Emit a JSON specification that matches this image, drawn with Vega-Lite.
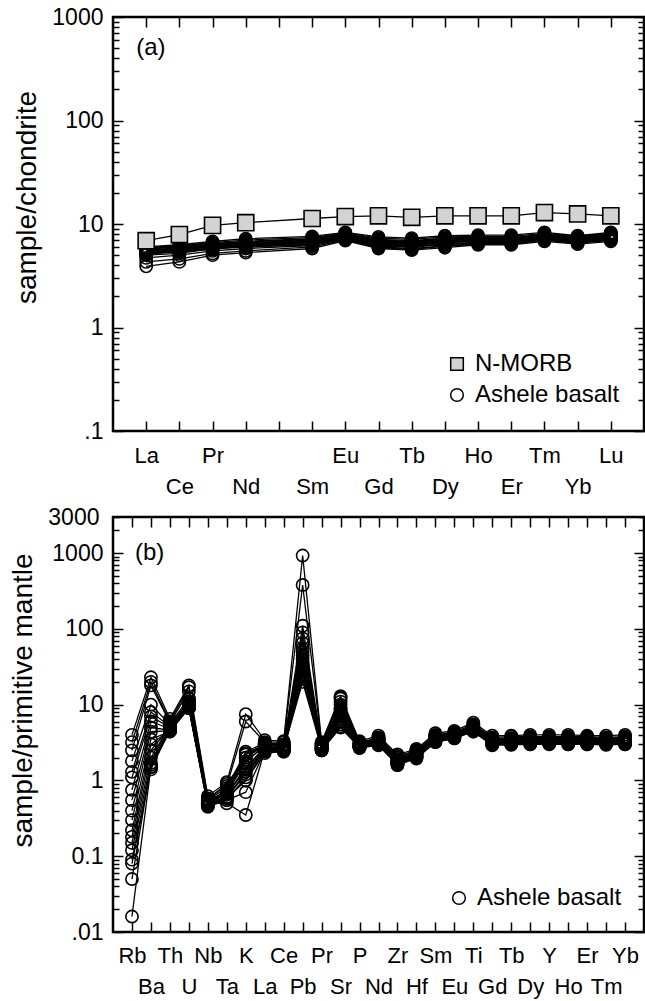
{
  "$schema": "https://vega.github.io/schema/vega-lite/v6.json",
  "padding": {"left": 8, "top": 4, "right": 1, "bottom": 0},
  "spacing": 5,
  "resolve": {"scale": {"shape": "independent", "fill": "independent"}, "legend": {"shape": "independent", "fill": "independent"}},
  "config": {
    "font": "Liberation Sans",
    "view": {"stroke": "black", "strokeWidth": 2.5},
    "axis": {"domain": false, "grid": false, "labelFontSize": 22, "labelColor": "black", "titleFontSize": 28, "titleFontWeight": "normal", "titleColor": "black", "tickColor": "black", "tickWidth": 1.5, "labelOverlap": false, "labelBound": false, "labelFlush": false},
    "axisY": {"labelFontSize": 23},
    "legend": {"labelFontSize": 24, "labelColor": "black", "symbolStrokeWidth": 1.5}
  },
  "datasets": {
    "ree": [
      {"s":"a1","g":"Ashele basalt","e":"La","v":3.9},{"s":"a1","g":"Ashele basalt","e":"Ce","v":4.3},{"s":"a1","g":"Ashele basalt","e":"Pr","v":5.0},{"s":"a1","g":"Ashele basalt","e":"Nd","v":5.3},{"s":"a1","g":"Ashele basalt","e":"Sm","v":5.8},{"s":"a1","g":"Ashele basalt","e":"Eu","v":6.9},{"s":"a1","g":"Ashele basalt","e":"Gd","v":5.8},{"s":"a1","g":"Ashele basalt","e":"Tb","v":5.6},{"s":"a1","g":"Ashele basalt","e":"Dy","v":5.9},{"s":"a1","g":"Ashele basalt","e":"Ho","v":6.3},{"s":"a1","g":"Ashele basalt","e":"Er","v":6.3},{"s":"a1","g":"Ashele basalt","e":"Tm","v":6.8},{"s":"a1","g":"Ashele basalt","e":"Yb","v":6.4},{"s":"a1","g":"Ashele basalt","e":"Lu","v":6.8},
      {"s":"a2","g":"Ashele basalt","e":"La","v":4.3},{"s":"a2","g":"Ashele basalt","e":"Ce","v":4.6},{"s":"a2","g":"Ashele basalt","e":"Pr","v":5.2},{"s":"a2","g":"Ashele basalt","e":"Nd","v":5.5},{"s":"a2","g":"Ashele basalt","e":"Sm","v":6.0},{"s":"a2","g":"Ashele basalt","e":"Eu","v":7.0},{"s":"a2","g":"Ashele basalt","e":"Gd","v":6.0},{"s":"a2","g":"Ashele basalt","e":"Tb","v":5.8},{"s":"a2","g":"Ashele basalt","e":"Dy","v":6.1},{"s":"a2","g":"Ashele basalt","e":"Ho","v":6.5},{"s":"a2","g":"Ashele basalt","e":"Er","v":6.4},{"s":"a2","g":"Ashele basalt","e":"Tm","v":7.0},{"s":"a2","g":"Ashele basalt","e":"Yb","v":6.6},{"s":"a2","g":"Ashele basalt","e":"Lu","v":7.0},
      {"s":"a3","g":"Ashele basalt","e":"La","v":4.7},{"s":"a3","g":"Ashele basalt","e":"Ce","v":5.0},{"s":"a3","g":"Ashele basalt","e":"Pr","v":5.5},{"s":"a3","g":"Ashele basalt","e":"Nd","v":5.8},{"s":"a3","g":"Ashele basalt","e":"Sm","v":6.2},{"s":"a3","g":"Ashele basalt","e":"Eu","v":7.2},{"s":"a3","g":"Ashele basalt","e":"Gd","v":6.1},{"s":"a3","g":"Ashele basalt","e":"Tb","v":6.0},{"s":"a3","g":"Ashele basalt","e":"Dy","v":6.3},{"s":"a3","g":"Ashele basalt","e":"Ho","v":6.6},{"s":"a3","g":"Ashele basalt","e":"Er","v":6.6},{"s":"a3","g":"Ashele basalt","e":"Tm","v":7.1},{"s":"a3","g":"Ashele basalt","e":"Yb","v":6.7},{"s":"a3","g":"Ashele basalt","e":"Lu","v":7.1},
      {"s":"a4","g":"Ashele basalt","e":"La","v":5.0},{"s":"a4","g":"Ashele basalt","e":"Ce","v":5.2},{"s":"a4","g":"Ashele basalt","e":"Pr","v":5.8},{"s":"a4","g":"Ashele basalt","e":"Nd","v":6.0},{"s":"a4","g":"Ashele basalt","e":"Sm","v":6.4},{"s":"a4","g":"Ashele basalt","e":"Eu","v":7.3},{"s":"a4","g":"Ashele basalt","e":"Gd","v":6.3},{"s":"a4","g":"Ashele basalt","e":"Tb","v":6.1},{"s":"a4","g":"Ashele basalt","e":"Dy","v":6.4},{"s":"a4","g":"Ashele basalt","e":"Ho","v":6.7},{"s":"a4","g":"Ashele basalt","e":"Er","v":6.7},{"s":"a4","g":"Ashele basalt","e":"Tm","v":7.2},{"s":"a4","g":"Ashele basalt","e":"Yb","v":6.8},{"s":"a4","g":"Ashele basalt","e":"Lu","v":7.2},
      {"s":"a5","g":"Ashele basalt","e":"La","v":5.2},{"s":"a5","g":"Ashele basalt","e":"Ce","v":5.4},{"s":"a5","g":"Ashele basalt","e":"Pr","v":5.9},{"s":"a5","g":"Ashele basalt","e":"Nd","v":6.1},{"s":"a5","g":"Ashele basalt","e":"Sm","v":6.5},{"s":"a5","g":"Ashele basalt","e":"Eu","v":7.4},{"s":"a5","g":"Ashele basalt","e":"Gd","v":6.4},{"s":"a5","g":"Ashele basalt","e":"Tb","v":6.2},{"s":"a5","g":"Ashele basalt","e":"Dy","v":6.6},{"s":"a5","g":"Ashele basalt","e":"Ho","v":6.8},{"s":"a5","g":"Ashele basalt","e":"Er","v":6.8},{"s":"a5","g":"Ashele basalt","e":"Tm","v":7.3},{"s":"a5","g":"Ashele basalt","e":"Yb","v":6.9},{"s":"a5","g":"Ashele basalt","e":"Lu","v":7.3},
      {"s":"a6","g":"Ashele basalt","e":"La","v":5.3},{"s":"a6","g":"Ashele basalt","e":"Ce","v":5.6},{"s":"a6","g":"Ashele basalt","e":"Pr","v":6.0},{"s":"a6","g":"Ashele basalt","e":"Nd","v":6.3},{"s":"a6","g":"Ashele basalt","e":"Sm","v":6.7},{"s":"a6","g":"Ashele basalt","e":"Eu","v":7.6},{"s":"a6","g":"Ashele basalt","e":"Gd","v":6.6},{"s":"a6","g":"Ashele basalt","e":"Tb","v":6.4},{"s":"a6","g":"Ashele basalt","e":"Dy","v":6.8},{"s":"a6","g":"Ashele basalt","e":"Ho","v":7.0},{"s":"a6","g":"Ashele basalt","e":"Er","v":6.9},{"s":"a6","g":"Ashele basalt","e":"Tm","v":7.5},{"s":"a6","g":"Ashele basalt","e":"Yb","v":7.0},{"s":"a6","g":"Ashele basalt","e":"Lu","v":7.5},
      {"s":"a7","g":"Ashele basalt","e":"La","v":5.4},{"s":"a7","g":"Ashele basalt","e":"Ce","v":5.7},{"s":"a7","g":"Ashele basalt","e":"Pr","v":6.1},{"s":"a7","g":"Ashele basalt","e":"Nd","v":6.4},{"s":"a7","g":"Ashele basalt","e":"Sm","v":6.8},{"s":"a7","g":"Ashele basalt","e":"Eu","v":7.7},{"s":"a7","g":"Ashele basalt","e":"Gd","v":6.7},{"s":"a7","g":"Ashele basalt","e":"Tb","v":6.5},{"s":"a7","g":"Ashele basalt","e":"Dy","v":6.9},{"s":"a7","g":"Ashele basalt","e":"Ho","v":7.1},{"s":"a7","g":"Ashele basalt","e":"Er","v":7.0},{"s":"a7","g":"Ashele basalt","e":"Tm","v":7.6},{"s":"a7","g":"Ashele basalt","e":"Yb","v":7.1},{"s":"a7","g":"Ashele basalt","e":"Lu","v":7.6},
      {"s":"a8","g":"Ashele basalt","e":"La","v":5.5},{"s":"a8","g":"Ashele basalt","e":"Ce","v":5.8},{"s":"a8","g":"Ashele basalt","e":"Pr","v":6.2},{"s":"a8","g":"Ashele basalt","e":"Nd","v":6.5},{"s":"a8","g":"Ashele basalt","e":"Sm","v":6.9},{"s":"a8","g":"Ashele basalt","e":"Eu","v":7.8},{"s":"a8","g":"Ashele basalt","e":"Gd","v":6.8},{"s":"a8","g":"Ashele basalt","e":"Tb","v":6.6},{"s":"a8","g":"Ashele basalt","e":"Dy","v":7.0},{"s":"a8","g":"Ashele basalt","e":"Ho","v":7.2},{"s":"a8","g":"Ashele basalt","e":"Er","v":7.1},{"s":"a8","g":"Ashele basalt","e":"Tm","v":7.7},{"s":"a8","g":"Ashele basalt","e":"Yb","v":7.2},{"s":"a8","g":"Ashele basalt","e":"Lu","v":7.7},
      {"s":"a9","g":"Ashele basalt","e":"La","v":5.6},{"s":"a9","g":"Ashele basalt","e":"Ce","v":5.9},{"s":"a9","g":"Ashele basalt","e":"Pr","v":6.3},{"s":"a9","g":"Ashele basalt","e":"Nd","v":6.6},{"s":"a9","g":"Ashele basalt","e":"Sm","v":7.0},{"s":"a9","g":"Ashele basalt","e":"Eu","v":7.9},{"s":"a9","g":"Ashele basalt","e":"Gd","v":6.9},{"s":"a9","g":"Ashele basalt","e":"Tb","v":6.7},{"s":"a9","g":"Ashele basalt","e":"Dy","v":7.1},{"s":"a9","g":"Ashele basalt","e":"Ho","v":7.3},{"s":"a9","g":"Ashele basalt","e":"Er","v":7.2},{"s":"a9","g":"Ashele basalt","e":"Tm","v":7.8},{"s":"a9","g":"Ashele basalt","e":"Yb","v":7.3},{"s":"a9","g":"Ashele basalt","e":"Lu","v":7.8},
      {"s":"a10","g":"Ashele basalt","e":"La","v":5.7},{"s":"a10","g":"Ashele basalt","e":"Ce","v":6.0},{"s":"a10","g":"Ashele basalt","e":"Pr","v":6.4},{"s":"a10","g":"Ashele basalt","e":"Nd","v":6.7},{"s":"a10","g":"Ashele basalt","e":"Sm","v":7.1},{"s":"a10","g":"Ashele basalt","e":"Eu","v":8.0},{"s":"a10","g":"Ashele basalt","e":"Gd","v":7.0},{"s":"a10","g":"Ashele basalt","e":"Tb","v":6.8},{"s":"a10","g":"Ashele basalt","e":"Dy","v":7.2},{"s":"a10","g":"Ashele basalt","e":"Ho","v":7.4},{"s":"a10","g":"Ashele basalt","e":"Er","v":7.3},{"s":"a10","g":"Ashele basalt","e":"Tm","v":7.9},{"s":"a10","g":"Ashele basalt","e":"Yb","v":7.4},{"s":"a10","g":"Ashele basalt","e":"Lu","v":7.9},
      {"s":"a11","g":"Ashele basalt","e":"La","v":5.8},{"s":"a11","g":"Ashele basalt","e":"Ce","v":6.1},{"s":"a11","g":"Ashele basalt","e":"Pr","v":6.5},{"s":"a11","g":"Ashele basalt","e":"Nd","v":6.8},{"s":"a11","g":"Ashele basalt","e":"Sm","v":7.2},{"s":"a11","g":"Ashele basalt","e":"Eu","v":8.1},{"s":"a11","g":"Ashele basalt","e":"Gd","v":7.1},{"s":"a11","g":"Ashele basalt","e":"Tb","v":6.9},{"s":"a11","g":"Ashele basalt","e":"Dy","v":7.3},{"s":"a11","g":"Ashele basalt","e":"Ho","v":7.5},{"s":"a11","g":"Ashele basalt","e":"Er","v":7.4},{"s":"a11","g":"Ashele basalt","e":"Tm","v":8.0},{"s":"a11","g":"Ashele basalt","e":"Yb","v":7.5},{"s":"a11","g":"Ashele basalt","e":"Lu","v":8.0},
      {"s":"a12","g":"Ashele basalt","e":"La","v":5.9},{"s":"a12","g":"Ashele basalt","e":"Ce","v":6.2},{"s":"a12","g":"Ashele basalt","e":"Pr","v":6.6},{"s":"a12","g":"Ashele basalt","e":"Nd","v":7.0},{"s":"a12","g":"Ashele basalt","e":"Sm","v":7.4},{"s":"a12","g":"Ashele basalt","e":"Eu","v":8.2},{"s":"a12","g":"Ashele basalt","e":"Gd","v":7.3},{"s":"a12","g":"Ashele basalt","e":"Tb","v":7.1},{"s":"a12","g":"Ashele basalt","e":"Dy","v":7.5},{"s":"a12","g":"Ashele basalt","e":"Ho","v":7.6},{"s":"a12","g":"Ashele basalt","e":"Er","v":7.6},{"s":"a12","g":"Ashele basalt","e":"Tm","v":8.1},{"s":"a12","g":"Ashele basalt","e":"Yb","v":7.6},{"s":"a12","g":"Ashele basalt","e":"Lu","v":8.1},
      {"s":"a13","g":"Ashele basalt","e":"La","v":5.5},{"s":"a13","g":"Ashele basalt","e":"Ce","v":5.7},{"s":"a13","g":"Ashele basalt","e":"Pr","v":6.0},{"s":"a13","g":"Ashele basalt","e":"Nd","v":6.2},{"s":"a13","g":"Ashele basalt","e":"Sm","v":6.6},{"s":"a13","g":"Ashele basalt","e":"Eu","v":7.5},{"s":"a13","g":"Ashele basalt","e":"Gd","v":6.2},{"s":"a13","g":"Ashele basalt","e":"Tb","v":6.0},{"s":"a13","g":"Ashele basalt","e":"Dy","v":6.4},{"s":"a13","g":"Ashele basalt","e":"Ho","v":6.6},{"s":"a13","g":"Ashele basalt","e":"Er","v":6.6},{"s":"a13","g":"Ashele basalt","e":"Tm","v":7.2},{"s":"a13","g":"Ashele basalt","e":"Yb","v":6.7},{"s":"a13","g":"Ashele basalt","e":"Lu","v":7.3},
      {"s":"a14","g":"Ashele basalt","e":"La","v":5.3},{"s":"a14","g":"Ashele basalt","e":"Ce","v":5.5},{"s":"a14","g":"Ashele basalt","e":"Pr","v":5.8},{"s":"a14","g":"Ashele basalt","e":"Nd","v":6.0},{"s":"a14","g":"Ashele basalt","e":"Sm","v":6.3},{"s":"a14","g":"Ashele basalt","e":"Eu","v":7.1},{"s":"a14","g":"Ashele basalt","e":"Gd","v":5.9},{"s":"a14","g":"Ashele basalt","e":"Tb","v":5.7},{"s":"a14","g":"Ashele basalt","e":"Dy","v":6.1},{"s":"a14","g":"Ashele basalt","e":"Ho","v":6.4},{"s":"a14","g":"Ashele basalt","e":"Er","v":6.5},{"s":"a14","g":"Ashele basalt","e":"Tm","v":7.0},{"s":"a14","g":"Ashele basalt","e":"Yb","v":6.5},{"s":"a14","g":"Ashele basalt","e":"Lu","v":7.0},
      {"s":"a15","g":"Ashele basalt","e":"La","v":6.0},{"s":"a15","g":"Ashele basalt","e":"Ce","v":6.3},{"s":"a15","g":"Ashele basalt","e":"Pr","v":6.8},{"s":"a15","g":"Ashele basalt","e":"Nd","v":7.2},{"s":"a15","g":"Ashele basalt","e":"Sm","v":7.6},{"s":"a15","g":"Ashele basalt","e":"Eu","v":8.3},{"s":"a15","g":"Ashele basalt","e":"Gd","v":7.5},{"s":"a15","g":"Ashele basalt","e":"Tb","v":7.3},{"s":"a15","g":"Ashele basalt","e":"Dy","v":7.7},{"s":"a15","g":"Ashele basalt","e":"Ho","v":7.8},{"s":"a15","g":"Ashele basalt","e":"Er","v":7.8},{"s":"a15","g":"Ashele basalt","e":"Tm","v":8.3},{"s":"a15","g":"Ashele basalt","e":"Yb","v":7.7},{"s":"a15","g":"Ashele basalt","e":"Lu","v":8.3},
      {"s":"a16","g":"Ashele basalt","e":"La","v":5.1},{"s":"a16","g":"Ashele basalt","e":"Ce","v":5.4},{"s":"a16","g":"Ashele basalt","e":"Pr","v":5.7},{"s":"a16","g":"Ashele basalt","e":"Nd","v":6.2},{"s":"a16","g":"Ashele basalt","e":"Sm","v":6.7},{"s":"a16","g":"Ashele basalt","e":"Eu","v":7.4},{"s":"a16","g":"Ashele basalt","e":"Gd","v":6.5},{"s":"a16","g":"Ashele basalt","e":"Tb","v":6.3},{"s":"a16","g":"Ashele basalt","e":"Dy","v":6.7},{"s":"a16","g":"Ashele basalt","e":"Ho","v":6.9},{"s":"a16","g":"Ashele basalt","e":"Er","v":6.9},{"s":"a16","g":"Ashele basalt","e":"Tm","v":7.4},{"s":"a16","g":"Ashele basalt","e":"Yb","v":6.9},{"s":"a16","g":"Ashele basalt","e":"Lu","v":7.4},
      {"s":"nm","g":"N-MORB","e":"La","v":6.9},{"s":"nm","g":"N-MORB","e":"Ce","v":7.9},{"s":"nm","g":"N-MORB","e":"Pr","v":9.7},{"s":"nm","g":"N-MORB","e":"Nd","v":10.3},{"s":"nm","g":"N-MORB","e":"Sm","v":11.3},{"s":"nm","g":"N-MORB","e":"Eu","v":11.8},{"s":"nm","g":"N-MORB","e":"Gd","v":12.0},{"s":"nm","g":"N-MORB","e":"Tb","v":11.6},{"s":"nm","g":"N-MORB","e":"Dy","v":12.0},{"s":"nm","g":"N-MORB","e":"Ho","v":12.0},{"s":"nm","g":"N-MORB","e":"Er","v":12.0},{"s":"nm","g":"N-MORB","e":"Tm","v":12.9},{"s":"nm","g":"N-MORB","e":"Yb","v":12.5},{"s":"nm","g":"N-MORB","e":"Lu","v":12.0}
    ],
    "spider": [
      {"s":"b1","e":"Rb","v":4.0},{"s":"b1","e":"Ba","v":23},{"s":"b1","e":"Th","v":6.5},{"s":"b1","e":"U","v":18},{"s":"b1","e":"Nb","v":0.62},{"s":"b1","e":"Ta","v":0.95},{"s":"b1","e":"K","v":7.5},{"s":"b1","e":"La","v":3.4},{"s":"b1","e":"Ce","v":3.3},{"s":"b1","e":"Pb","v":930},{"s":"b1","e":"Pr","v":3.2},{"s":"b1","e":"Sr","v":13},{"s":"b1","e":"P","v":3.3},{"s":"b1","e":"Nd","v":3.9},{"s":"b1","e":"Zr","v":2.2},{"s":"b1","e":"Hf","v":2.6},{"s":"b1","e":"Sm","v":4.2},{"s":"b1","e":"Eu","v":4.5},{"s":"b1","e":"Ti","v":5.8},{"s":"b1","e":"Gd","v":3.9},{"s":"b1","e":"Tb","v":3.9},{"s":"b1","e":"Dy","v":4.0},{"s":"b1","e":"Y","v":4.0},{"s":"b1","e":"Ho","v":4.0},{"s":"b1","e":"Er","v":3.9},{"s":"b1","e":"Tm","v":3.9},{"s":"b1","e":"Yb","v":4.0},
      {"s":"b2","e":"Rb","v":3.2},{"s":"b2","e":"Ba","v":20},{"s":"b2","e":"Th","v":6.0},{"s":"b2","e":"U","v":17},{"s":"b2","e":"Nb","v":0.58},{"s":"b2","e":"Ta","v":0.85},{"s":"b2","e":"K","v":6.0},{"s":"b2","e":"La","v":3.2},{"s":"b2","e":"Ce","v":3.2},{"s":"b2","e":"Pb","v":380},{"s":"b2","e":"Pr","v":3.1},{"s":"b2","e":"Sr","v":12},{"s":"b2","e":"P","v":3.1},{"s":"b2","e":"Nd","v":3.7},{"s":"b2","e":"Zr","v":2.1},{"s":"b2","e":"Hf","v":2.5},{"s":"b2","e":"Sm","v":4.0},{"s":"b2","e":"Eu","v":4.3},{"s":"b2","e":"Ti","v":5.5},{"s":"b2","e":"Gd","v":3.7},{"s":"b2","e":"Tb","v":3.8},{"s":"b2","e":"Dy","v":3.8},{"s":"b2","e":"Y","v":3.8},{"s":"b2","e":"Ho","v":3.8},{"s":"b2","e":"Er","v":3.8},{"s":"b2","e":"Tm","v":3.7},{"s":"b2","e":"Yb","v":3.8},
      {"s":"b3","e":"Rb","v":2.5},{"s":"b3","e":"Ba","v":18},{"s":"b3","e":"Th","v":5.8},{"s":"b3","e":"U","v":15},{"s":"b3","e":"Nb","v":0.55},{"s":"b3","e":"Ta","v":0.8},{"s":"b3","e":"K","v":2.4},{"s":"b3","e":"La","v":3.1},{"s":"b3","e":"Ce","v":3.0},{"s":"b3","e":"Pb","v":110},{"s":"b3","e":"Pr","v":3.0},{"s":"b3","e":"Sr","v":11},{"s":"b3","e":"P","v":3.0},{"s":"b3","e":"Nd","v":3.6},{"s":"b3","e":"Zr","v":2.0},{"s":"b3","e":"Hf","v":2.4},{"s":"b3","e":"Sm","v":3.9},{"s":"b3","e":"Eu","v":4.2},{"s":"b3","e":"Ti","v":5.2},{"s":"b3","e":"Gd","v":3.6},{"s":"b3","e":"Tb","v":3.6},{"s":"b3","e":"Dy","v":3.7},{"s":"b3","e":"Y","v":3.7},{"s":"b3","e":"Ho","v":3.7},{"s":"b3","e":"Er","v":3.7},{"s":"b3","e":"Tm","v":3.6},{"s":"b3","e":"Yb","v":3.7},
      {"s":"b4","e":"Rb","v":1.8},{"s":"b4","e":"Ba","v":10},{"s":"b4","e":"Th","v":5.5},{"s":"b4","e":"U","v":12},{"s":"b4","e":"Nb","v":0.52},{"s":"b4","e":"Ta","v":0.75},{"s":"b4","e":"K","v":2.2},{"s":"b4","e":"La","v":3.0},{"s":"b4","e":"Ce","v":2.9},{"s":"b4","e":"Pb","v":90},{"s":"b4","e":"Pr","v":2.9},{"s":"b4","e":"Sr","v":9},{"s":"b4","e":"P","v":2.9},{"s":"b4","e":"Nd","v":3.5},{"s":"b4","e":"Zr","v":1.9},{"s":"b4","e":"Hf","v":2.3},{"s":"b4","e":"Sm","v":3.8},{"s":"b4","e":"Eu","v":4.1},{"s":"b4","e":"Ti","v":5.0},{"s":"b4","e":"Gd","v":3.5},{"s":"b4","e":"Tb","v":3.5},{"s":"b4","e":"Dy","v":3.6},{"s":"b4","e":"Y","v":3.6},{"s":"b4","e":"Ho","v":3.6},{"s":"b4","e":"Er","v":3.6},{"s":"b4","e":"Tm","v":3.5},{"s":"b4","e":"Yb","v":3.6},
      {"s":"b5","e":"Rb","v":1.3},{"s":"b5","e":"Ba","v":8},{"s":"b5","e":"Th","v":5.2},{"s":"b5","e":"U","v":11},{"s":"b5","e":"Nb","v":0.5},{"s":"b5","e":"Ta","v":0.72},{"s":"b5","e":"K","v":2.0},{"s":"b5","e":"La","v":2.9},{"s":"b5","e":"Ce","v":2.8},{"s":"b5","e":"Pb","v":75},{"s":"b5","e":"Pr","v":2.8},{"s":"b5","e":"Sr","v":8},{"s":"b5","e":"P","v":2.8},{"s":"b5","e":"Nd","v":3.4},{"s":"b5","e":"Zr","v":1.85},{"s":"b5","e":"Hf","v":2.25},{"s":"b5","e":"Sm","v":3.7},{"s":"b5","e":"Eu","v":4.0},{"s":"b5","e":"Ti","v":4.9},{"s":"b5","e":"Gd","v":3.4},{"s":"b5","e":"Tb","v":3.4},{"s":"b5","e":"Dy","v":3.5},{"s":"b5","e":"Y","v":3.5},{"s":"b5","e":"Ho","v":3.5},{"s":"b5","e":"Er","v":3.5},{"s":"b5","e":"Tm","v":3.4},{"s":"b5","e":"Yb","v":3.5},
      {"s":"b6","e":"Rb","v":1.1},{"s":"b6","e":"Ba","v":7},{"s":"b6","e":"Th","v":5.0},{"s":"b6","e":"U","v":10},{"s":"b6","e":"Nb","v":0.48},{"s":"b6","e":"Ta","v":0.7},{"s":"b6","e":"K","v":1.8},{"s":"b6","e":"La","v":2.8},{"s":"b6","e":"Ce","v":2.7},{"s":"b6","e":"Pb","v":65},{"s":"b6","e":"Pr","v":2.75},{"s":"b6","e":"Sr","v":7.5},{"s":"b6","e":"P","v":2.8},{"s":"b6","e":"Nd","v":3.3},{"s":"b6","e":"Zr","v":1.8},{"s":"b6","e":"Hf","v":2.2},{"s":"b6","e":"Sm","v":3.6},{"s":"b6","e":"Eu","v":3.9},{"s":"b6","e":"Ti","v":4.8},{"s":"b6","e":"Gd","v":3.3},{"s":"b6","e":"Tb","v":3.3},{"s":"b6","e":"Dy","v":3.4},{"s":"b6","e":"Y","v":3.4},{"s":"b6","e":"Ho","v":3.4},{"s":"b6","e":"Er","v":3.4},{"s":"b6","e":"Tm","v":3.3},{"s":"b6","e":"Yb","v":3.4},
      {"s":"b7","e":"Rb","v":0.75},{"s":"b7","e":"Ba","v":6},{"s":"b7","e":"Th","v":4.8},{"s":"b7","e":"U","v":10},{"s":"b7","e":"Nb","v":0.5},{"s":"b7","e":"Ta","v":0.65},{"s":"b7","e":"K","v":1.5},{"s":"b7","e":"La","v":2.7},{"s":"b7","e":"Ce","v":2.6},{"s":"b7","e":"Pb","v":55},{"s":"b7","e":"Pr","v":2.7},{"s":"b7","e":"Sr","v":7},{"s":"b7","e":"P","v":2.9},{"s":"b7","e":"Nd","v":3.2},{"s":"b7","e":"Zr","v":1.75},{"s":"b7","e":"Hf","v":2.1},{"s":"b7","e":"Sm","v":3.5},{"s":"b7","e":"Eu","v":3.9},{"s":"b7","e":"Ti","v":4.7},{"s":"b7","e":"Gd","v":3.2},{"s":"b7","e":"Tb","v":3.2},{"s":"b7","e":"Dy","v":3.3},{"s":"b7","e":"Y","v":3.3},{"s":"b7","e":"Ho","v":3.3},{"s":"b7","e":"Er","v":3.3},{"s":"b7","e":"Tm","v":3.2},{"s":"b7","e":"Yb","v":3.3},
      {"s":"b8","e":"Rb","v":0.55},{"s":"b8","e":"Ba","v":5},{"s":"b8","e":"Th","v":4.6},{"s":"b8","e":"U","v":9.5},{"s":"b8","e":"Nb","v":0.47},{"s":"b8","e":"Ta","v":0.6},{"s":"b8","e":"K","v":1.2},{"s":"b8","e":"La","v":2.6},{"s":"b8","e":"Ce","v":2.5},{"s":"b8","e":"Pb","v":50},{"s":"b8","e":"Pr","v":2.6},{"s":"b8","e":"Sr","v":6.5},{"s":"b8","e":"P","v":2.7},{"s":"b8","e":"Nd","v":3.1},{"s":"b8","e":"Zr","v":1.7},{"s":"b8","e":"Hf","v":2.05},{"s":"b8","e":"Sm","v":3.4},{"s":"b8","e":"Eu","v":3.8},{"s":"b8","e":"Ti","v":4.6},{"s":"b8","e":"Gd","v":3.1},{"s":"b8","e":"Tb","v":3.1},{"s":"b8","e":"Dy","v":3.2},{"s":"b8","e":"Y","v":3.2},{"s":"b8","e":"Ho","v":3.2},{"s":"b8","e":"Er","v":3.2},{"s":"b8","e":"Tm","v":3.1},{"s":"b8","e":"Yb","v":3.2},
      {"s":"b9","e":"Rb","v":0.4},{"s":"b9","e":"Ba","v":4.4},{"s":"b9","e":"Th","v":4.5},{"s":"b9","e":"U","v":9},{"s":"b9","e":"Nb","v":0.46},{"s":"b9","e":"Ta","v":0.58},{"s":"b9","e":"K","v":1.0},{"s":"b9","e":"La","v":2.5},{"s":"b9","e":"Ce","v":2.5},{"s":"b9","e":"Pb","v":45},{"s":"b9","e":"Pr","v":2.5},{"s":"b9","e":"Sr","v":6},{"s":"b9","e":"P","v":2.8},{"s":"b9","e":"Nd","v":3.0},{"s":"b9","e":"Zr","v":1.65},{"s":"b9","e":"Hf","v":2.0},{"s":"b9","e":"Sm","v":3.3},{"s":"b9","e":"Eu","v":3.7},{"s":"b9","e":"Ti","v":4.5},{"s":"b9","e":"Gd","v":3.0},{"s":"b9","e":"Tb","v":3.05},{"s":"b9","e":"Dy","v":3.1},{"s":"b9","e":"Y","v":3.1},{"s":"b9","e":"Ho","v":3.1},{"s":"b9","e":"Er","v":3.1},{"s":"b9","e":"Tm","v":3.05},{"s":"b9","e":"Yb","v":3.1},
      {"s":"b10","e":"Rb","v":0.3},{"s":"b10","e":"Ba","v":3.5},{"s":"b10","e":"Th","v":4.4},{"s":"b10","e":"U","v":9},{"s":"b10","e":"Nb","v":0.45},{"s":"b10","e":"Ta","v":0.55},{"s":"b10","e":"K","v":0.7},{"s":"b10","e":"La","v":2.4},{"s":"b10","e":"Ce","v":2.4},{"s":"b10","e":"Pb","v":40},{"s":"b10","e":"Pr","v":2.5},{"s":"b10","e":"Sr","v":5.5},{"s":"b10","e":"P","v":2.7},{"s":"b10","e":"Nd","v":3.0},{"s":"b10","e":"Zr","v":1.6},{"s":"b10","e":"Hf","v":2.0},{"s":"b10","e":"Sm","v":3.2},{"s":"b10","e":"Eu","v":3.6},{"s":"b10","e":"Ti","v":4.5},{"s":"b10","e":"Gd","v":3.0},{"s":"b10","e":"Tb","v":3.0},{"s":"b10","e":"Dy","v":3.0},{"s":"b10","e":"Y","v":3.1},{"s":"b10","e":"Ho","v":3.0},{"s":"b10","e":"Er","v":3.0},{"s":"b10","e":"Tm","v":3.0},{"s":"b10","e":"Yb","v":3.0},
      {"s":"b11","e":"Rb","v":0.22},{"s":"b11","e":"Ba","v":3.0},{"s":"b11","e":"Th","v":4.6},{"s":"b11","e":"U","v":9.5},{"s":"b11","e":"Nb","v":0.5},{"s":"b11","e":"Ta","v":0.5},{"s":"b11","e":"K","v":0.35},{"s":"b11","e":"La","v":2.5},{"s":"b11","e":"Ce","v":2.6},{"s":"b11","e":"Pb","v":35},{"s":"b11","e":"Pr","v":2.6},{"s":"b11","e":"Sr","v":5.2},{"s":"b11","e":"P","v":2.9},{"s":"b11","e":"Nd","v":3.1},{"s":"b11","e":"Zr","v":1.7},{"s":"b11","e":"Hf","v":2.1},{"s":"b11","e":"Sm","v":3.4},{"s":"b11","e":"Eu","v":3.8},{"s":"b11","e":"Ti","v":4.6},{"s":"b11","e":"Gd","v":3.1},{"s":"b11","e":"Tb","v":3.2},{"s":"b11","e":"Dy","v":3.2},{"s":"b11","e":"Y","v":3.3},{"s":"b11","e":"Ho","v":3.2},{"s":"b11","e":"Er","v":3.2},{"s":"b11","e":"Tm","v":3.2},{"s":"b11","e":"Yb","v":3.2},
      {"s":"b12","e":"Rb","v":0.18},{"s":"b12","e":"Ba","v":2.5},{"s":"b12","e":"Th","v":5.0},{"s":"b12","e":"U","v":10},{"s":"b12","e":"Nb","v":0.53},{"s":"b12","e":"Ta","v":0.65},{"s":"b12","e":"K","v":1.4},{"s":"b12","e":"La","v":2.8},{"s":"b12","e":"Ce","v":2.7},{"s":"b12","e":"Pb","v":30},{"s":"b12","e":"Pr","v":2.7},{"s":"b12","e":"Sr","v":8.5},{"s":"b12","e":"P","v":3.0},{"s":"b12","e":"Nd","v":3.3},{"s":"b12","e":"Zr","v":1.8},{"s":"b12","e":"Hf","v":2.2},{"s":"b12","e":"Sm","v":3.6},{"s":"b12","e":"Eu","v":4.0},{"s":"b12","e":"Ti","v":4.8},{"s":"b12","e":"Gd","v":3.3},{"s":"b12","e":"Tb","v":3.3},{"s":"b12","e":"Dy","v":3.4},{"s":"b12","e":"Y","v":3.4},{"s":"b12","e":"Ho","v":3.4},{"s":"b12","e":"Er","v":3.4},{"s":"b12","e":"Tm","v":3.3},{"s":"b12","e":"Yb","v":3.4},
      {"s":"b13","e":"Rb","v":0.15},{"s":"b13","e":"Ba","v":2.0},{"s":"b13","e":"Th","v":5.3},{"s":"b13","e":"U","v":11},{"s":"b13","e":"Nb","v":0.55},{"s":"b13","e":"Ta","v":0.7},{"s":"b13","e":"K","v":1.7},{"s":"b13","e":"La","v":3.0},{"s":"b13","e":"Ce","v":2.9},{"s":"b13","e":"Pb","v":28},{"s":"b13","e":"Pr","v":2.9},{"s":"b13","e":"Sr","v":10},{"s":"b13","e":"P","v":3.1},{"s":"b13","e":"Nd","v":3.5},{"s":"b13","e":"Zr","v":1.9},{"s":"b13","e":"Hf","v":2.3},{"s":"b13","e":"Sm","v":3.8},{"s":"b13","e":"Eu","v":4.1},{"s":"b13","e":"Ti","v":5.0},{"s":"b13","e":"Gd","v":3.5},{"s":"b13","e":"Tb","v":3.5},{"s":"b13","e":"Dy","v":3.6},{"s":"b13","e":"Y","v":3.6},{"s":"b13","e":"Ho","v":3.6},{"s":"b13","e":"Er","v":3.6},{"s":"b13","e":"Tm","v":3.5},{"s":"b13","e":"Yb","v":3.6},
      {"s":"b14","e":"Rb","v":0.12},{"s":"b14","e":"Ba","v":1.7},{"s":"b14","e":"Th","v":5.6},{"s":"b14","e":"U","v":12},{"s":"b14","e":"Nb","v":0.57},{"s":"b14","e":"Ta","v":0.9},{"s":"b14","e":"K","v":2.0},{"s":"b14","e":"La","v":3.1},{"s":"b14","e":"Ce","v":3.0},{"s":"b14","e":"Pb","v":25},{"s":"b14","e":"Pr","v":3.0},{"s":"b14","e":"Sr","v":12.5},{"s":"b14","e":"P","v":3.2},{"s":"b14","e":"Nd","v":3.6},{"s":"b14","e":"Zr","v":2.0},{"s":"b14","e":"Hf","v":2.4},{"s":"b14","e":"Sm","v":3.9},{"s":"b14","e":"Eu","v":4.2},{"s":"b14","e":"Ti","v":5.3},{"s":"b14","e":"Gd","v":3.6},{"s":"b14","e":"Tb","v":3.6},{"s":"b14","e":"Dy","v":3.7},{"s":"b14","e":"Y","v":3.7},{"s":"b14","e":"Ho","v":3.7},{"s":"b14","e":"Er","v":3.7},{"s":"b14","e":"Tm","v":3.6},{"s":"b14","e":"Yb","v":3.7},
      {"s":"b15","e":"Rb","v":0.09},{"s":"b15","e":"Ba","v":1.5},{"s":"b15","e":"Th","v":4.9},{"s":"b15","e":"U","v":10},{"s":"b15","e":"Nb","v":0.5},{"s":"b15","e":"Ta","v":0.6},{"s":"b15","e":"K","v":1.3},{"s":"b15","e":"La","v":2.7},{"s":"b15","e":"Ce","v":2.7},{"s":"b15","e":"Pb","v":22},{"s":"b15","e":"Pr","v":2.7},{"s":"b15","e":"Sr","v":7},{"s":"b15","e":"P","v":2.8},{"s":"b15","e":"Nd","v":3.2},{"s":"b15","e":"Zr","v":1.75},{"s":"b15","e":"Hf","v":2.15},{"s":"b15","e":"Sm","v":3.5},{"s":"b15","e":"Eu","v":3.9},{"s":"b15","e":"Ti","v":4.7},{"s":"b15","e":"Gd","v":3.2},{"s":"b15","e":"Tb","v":3.2},{"s":"b15","e":"Dy","v":3.3},{"s":"b15","e":"Y","v":3.3},{"s":"b15","e":"Ho","v":3.3},{"s":"b15","e":"Er","v":3.3},{"s":"b15","e":"Tm","v":3.2},{"s":"b15","e":"Yb","v":3.3},
      {"s":"b16","e":"Rb","v":0.08},{"s":"b16","e":"Ba","v":1.4},{"s":"b16","e":"Th","v":4.7},{"s":"b16","e":"U","v":9.5},{"s":"b16","e":"Nb","v":0.48},{"s":"b16","e":"Ta","v":0.55},{"s":"b16","e":"K","v":1.1},{"s":"b16","e":"La","v":2.6},{"s":"b16","e":"Ce","v":2.6},{"s":"b16","e":"Pb","v":20},{"s":"b16","e":"Pr","v":2.6},{"s":"b16","e":"Sr","v":6},{"s":"b16","e":"P","v":2.75},{"s":"b16","e":"Nd","v":3.1},{"s":"b16","e":"Zr","v":1.7},{"s":"b16","e":"Hf","v":2.1},{"s":"b16","e":"Sm","v":3.4},{"s":"b16","e":"Eu","v":3.8},{"s":"b16","e":"Ti","v":4.6},{"s":"b16","e":"Gd","v":3.1},{"s":"b16","e":"Tb","v":3.1},{"s":"b16","e":"Dy","v":3.2},{"s":"b16","e":"Y","v":3.2},{"s":"b16","e":"Ho","v":3.2},{"s":"b16","e":"Er","v":3.2},{"s":"b16","e":"Tm","v":3.1},{"s":"b16","e":"Yb","v":3.2},
      {"s":"b17","e":"Rb","v":0.05},{"s":"b17","e":"Ba","v":1.6},{"s":"b17","e":"Th","v":5.1},{"s":"b17","e":"U","v":10.5},{"s":"b17","e":"Nb","v":0.52},{"s":"b17","e":"Ta","v":0.68},{"s":"b17","e":"K","v":2.3},{"s":"b17","e":"La","v":2.9},{"s":"b17","e":"Ce","v":2.8},{"s":"b17","e":"Pb","v":32},{"s":"b17","e":"Pr","v":2.8},{"s":"b17","e":"Sr","v":9},{"s":"b17","e":"P","v":3.0},{"s":"b17","e":"Nd","v":3.4},{"s":"b17","e":"Zr","v":1.8},{"s":"b17","e":"Hf","v":2.25},{"s":"b17","e":"Sm","v":3.7},{"s":"b17","e":"Eu","v":4.0},{"s":"b17","e":"Ti","v":4.9},{"s":"b17","e":"Gd","v":3.4},{"s":"b17","e":"Tb","v":3.4},{"s":"b17","e":"Dy","v":3.5},{"s":"b17","e":"Y","v":3.5},{"s":"b17","e":"Ho","v":3.5},{"s":"b17","e":"Er","v":3.5},{"s":"b17","e":"Tm","v":3.4},{"s":"b17","e":"Yb","v":3.5},
      {"s":"b18","e":"Rb","v":0.016},{"s":"b18","e":"Ba","v":1.5},{"s":"b18","e":"Th","v":4.5},{"s":"b18","e":"U","v":9},{"s":"b18","e":"Nb","v":0.5},{"s":"b18","e":"Ta","v":0.6},{"s":"b18","e":"K","v":1.0},{"s":"b18","e":"La","v":2.3},{"s":"b18","e":"Ce","v":2.4},{"s":"b18","e":"Pb","v":28},{"s":"b18","e":"Pr","v":2.5},{"s":"b18","e":"Sr","v":5},{"s":"b18","e":"P","v":2.7},{"s":"b18","e":"Nd","v":2.9},{"s":"b18","e":"Zr","v":1.6},{"s":"b18","e":"Hf","v":1.95},{"s":"b18","e":"Sm","v":3.2},{"s":"b18","e":"Eu","v":3.6},{"s":"b18","e":"Ti","v":4.4},{"s":"b18","e":"Gd","v":2.9},{"s":"b18","e":"Tb","v":2.95},{"s":"b18","e":"Dy","v":3.0},{"s":"b18","e":"Y","v":3.0},{"s":"b18","e":"Ho","v":3.0},{"s":"b18","e":"Er","v":3.0},{"s":"b18","e":"Tm","v":2.95},{"s":"b18","e":"Yb","v":3.0}
    ],
    "labA": [{"e":"La","v":497,"t":"(a)"}],
    "labB": [{"e":"Rb","v":1000,"t":"(b)"}]
  },
  "vconcat": [
    {
      "width": 531,
      "height": 414,
      "data": {"name": "ree"},
      "resolve": {"axis": {"x": "independent", "y": "independent"}},
      "layer": [
        {
          "mark": {"type": "line", "color": "black", "strokeWidth": 1.3},
          "encoding": {
            "x": {"field": "e", "type": "ordinal", "sort": ["La","Ce","Pr","Nd","Pm","Sm","Eu","Gd","Tb","Dy","Ho","Er","Tm","Yb","Lu"],
              "scale": {"type": "point", "domain": ["La","Ce","Pr","Nd","Pm","Sm","Eu","Gd","Tb","Dy","Ho","Er","Tm","Yb","Lu"], "padding": 1},
              "axis": {"orient": "bottom", "title": null, "labelAngle": 0, "tickSize": -10, "labelBaseline": "top",
                "labelExpr": "datum.value == 'Pm' ? '' : datum.value",
                "labelPadding": {"condition": {"test": "indexof(['Ce','Nd','Sm','Gd','Dy','Er','Yb'], datum.value) >= 0", "value": 55}, "value": 24}}},
            "y": {"field": "v", "type": "quantitative",
              "scale": {"type": "log", "domain": [0.1, 1000], "nice": false},
              "axis": {"orient": "left", "title": "sample/chondrite", "titlePadding": 10, "titleY": 180,
                "values": [0.1,0.2,0.3,0.4,0.5,0.6,0.7,0.8,0.9,1,2,3,4,5,6,7,8,9,10,20,30,40,50,60,70,80,90,100,200,300,400,500,600,700,800,900,1000],
                "labelExpr": "datum.value == 0.1 ? '.1' : datum.value == 1 ? '1' : datum.value == 10 ? '10' : datum.value == 100 ? '100' : datum.value == 1000 ? '1000' : ''",
                "tickSize": {"condition": {"test": "indexof([0.1,1,10,100,1000], datum.value) >= 0", "value": -10}, "value": -6},
                "labelPadding": 20}},
            "detail": {"field": "s"}
          }
        },
        {
          "transform": [{"filter": "datum.g == 'Ashele basalt'"}],
          "mark": {"type": "point", "filled": false, "color": "black", "stroke": "black", "strokeWidth": 1.6, "size": 150, "opacity": 1},
          "encoding": {
            "x": {"field": "e", "type": "ordinal", "axis": null},
            "y": {"field": "v", "type": "quantitative", "axis": null},
            "shape": {"field": "g", "type": "nominal", "scale": {"domain": ["N-MORB", "Ashele basalt"], "range": ["square", "circle"]},
              "legend": {"title": null, "orient": "bottom-right", "offset": 24, "symbolSize": 160, "rowPadding": 7, "labelOffset": 6}},
            "fill": {"field": "g", "type": "nominal", "scale": {"domain": ["N-MORB", "Ashele basalt"], "range": ["#d3d3d3", "transparent"]},
              "legend": {"title": null, "orient": "bottom-right", "offset": 24, "symbolSize": 160, "rowPadding": 7, "labelOffset": 6}}
          }
        },
        {
          "transform": [{"filter": "datum.g == 'N-MORB'"}],
          "mark": {"type": "point", "filled": false, "color": "black", "stroke": "black", "strokeWidth": 1.6, "size": 260, "opacity": 1},
          "encoding": {
            "x": {"field": "e", "type": "ordinal", "axis": null},
            "y": {"field": "v", "type": "quantitative", "axis": null},
            "shape": {"field": "g", "type": "nominal"},
            "fill": {"field": "g", "type": "nominal"}
          }
        },
        {
          "data": {"name": "labA"},
          "mark": {"type": "text", "align": "left", "baseline": "middle", "dx": -10, "fontSize": 24, "color": "black"},
          "encoding": {
            "x": {"field": "e", "type": "ordinal", "axis": null},
            "y": {"field": "v", "type": "quantitative", "axis": null},
            "text": {"field": "t"}
          }
        },
        {
          "mark": {"type": "point", "opacity": 0},
          "encoding": {
            "x": {"field": "e", "type": "ordinal", "axis": {"orient": "top", "title": null, "labels": false, "tickSize": -10}},
            "y": {"field": "v", "type": "quantitative",
              "axis": {"orient": "right", "title": null, "labels": false,
                "values": [0.1,0.2,0.3,0.4,0.5,0.6,0.7,0.8,0.9,1,2,3,4,5,6,7,8,9,10,20,30,40,50,60,70,80,90,100,200,300,400,500,600,700,800,900,1000],
                "tickSize": {"condition": {"test": "indexof([0.1,1,10,100,1000], datum.value) >= 0", "value": -10}, "value": -6}}}
          }
        }
      ]
    },
    {
      "width": 531,
      "height": 415,
      "data": {"name": "spider"},
      "resolve": {"axis": {"x": "independent", "y": "independent"}},
      "layer": [
        {
          "mark": {"type": "line", "color": "black", "strokeWidth": 1.3},
          "encoding": {
            "x": {"field": "e", "type": "ordinal", "sort": ["Rb","Ba","Th","U","Nb","Ta","K","La","Ce","Pb","Pr","Sr","P","Nd","Zr","Hf","Sm","Eu","Ti","Gd","Tb","Dy","Y","Ho","Er","Tm","Yb"],
              "scale": {"type": "point", "domain": ["Rb","Ba","Th","U","Nb","Ta","K","La","Ce","Pb","Pr","Sr","P","Nd","Zr","Hf","Sm","Eu","Ti","Gd","Tb","Dy","Y","Ho","Er","Tm","Yb"], "padding": 1},
              "axis": {"orient": "bottom", "title": null, "labelAngle": 0, "tickSize": -10, "labelBaseline": "top",
                "labelPadding": {"condition": {"test": "indexof(['Ba','U','Ta','La','Pb','Sr','Nd','Hf','Eu','Gd','Dy','Ho','Tm'], datum.value) >= 0", "value": 54}, "value": 23}}},
            "y": {"field": "v", "type": "quantitative",
              "scale": {"type": "log", "domain": [0.01, 3000], "nice": false},
              "axis": {"orient": "left", "title": "sample/primitive mantle", "titlePadding": 10, "titleY": 183,
                "values": [0.01,0.02,0.03,0.04,0.05,0.06,0.07,0.08,0.09,0.1,0.2,0.3,0.4,0.5,0.6,0.7,0.8,0.9,1,2,3,4,5,6,7,8,9,10,20,30,40,50,60,70,80,90,100,200,300,400,500,600,700,800,900,1000,2000,3000],
                "labelExpr": "datum.value == 0.01 ? '.01' : datum.value == 0.1 ? '0.1' : datum.value == 1 ? '1' : datum.value == 10 ? '10' : datum.value == 100 ? '100' : datum.value == 1000 ? '1000' : datum.value == 3000 ? '3000' : ''",
                "tickSize": {"condition": {"test": "indexof([0.01,0.1,1,10,100,1000], datum.value) >= 0", "value": -10}, "value": -6},
                "labelPadding": 20}},
            "detail": {"field": "s"}
          }
        },
        {
          "mark": {"type": "point", "filled": false, "color": "black", "stroke": "black", "strokeWidth": 1.6, "size": 150, "opacity": 1},
          "encoding": {
            "x": {"field": "e", "type": "ordinal", "axis": null},
            "y": {"field": "v", "type": "quantitative", "axis": null},
            "shape": {"datum": "Ashele basalt", "type": "nominal", "scale": {"domain": ["Ashele basalt"], "range": ["circle"]},
              "legend": {"title": null, "orient": "bottom-right", "offset": 22, "symbolSize": 160, "labelOffset": 6}}
          }
        },
        {
          "data": {"name": "labB"},
          "mark": {"type": "text", "align": "left", "baseline": "middle", "dx": 3, "fontSize": 24, "color": "black"},
          "encoding": {
            "x": {"field": "e", "type": "ordinal", "axis": null},
            "y": {"field": "v", "type": "quantitative", "axis": null},
            "text": {"field": "t"}
          }
        },
        {
          "mark": {"type": "point", "opacity": 0},
          "encoding": {
            "x": {"field": "e", "type": "ordinal", "axis": {"orient": "top", "title": null, "labels": false, "tickSize": -10}},
            "y": {"field": "v", "type": "quantitative",
              "axis": {"orient": "right", "title": null, "labels": false,
                "values": [0.01,0.02,0.03,0.04,0.05,0.06,0.07,0.08,0.09,0.1,0.2,0.3,0.4,0.5,0.6,0.7,0.8,0.9,1,2,3,4,5,6,7,8,9,10,20,30,40,50,60,70,80,90,100,200,300,400,500,600,700,800,900,1000,2000,3000],
                "tickSize": {"condition": {"test": "indexof([0.01,0.1,1,10,100,1000], datum.value) >= 0", "value": -10}, "value": -6}}}
          }
        }
      ]
    }
  ]
}
